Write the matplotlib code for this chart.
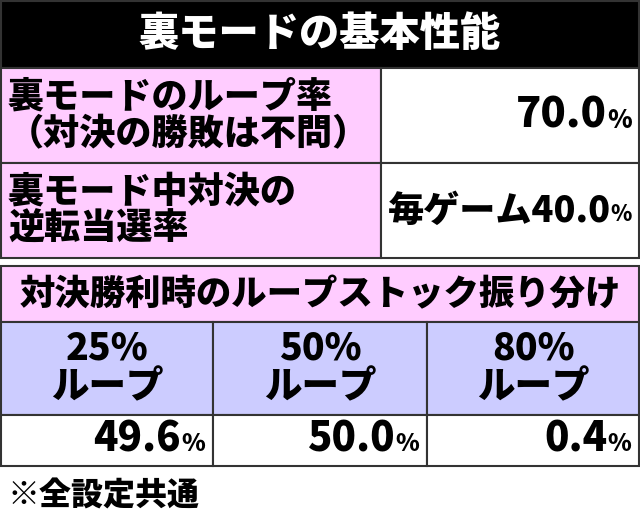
import matplotlib.pyplot as plt
from matplotlib.patches import Rectangle

plt.rcParams['font.family'] = ['Noto Sans CJK JP', 'DejaVu Sans']

title = "裏モードの基本性能"
row_labels = ["裏モードのループ率\n（対決の勝敗は不問）", "裏モード中対決の\n逆転当選率"]
row_prefix = ["", "毎ゲーム"]
row_values = ["70.0", "40.0"]
stock_title = "対決勝利時のループストック振り分け"
stock_labels = ["25%\nループ", "50%\nループ", "80%\nループ"]
stock_values = ["49.6", "50.0", "0.4"]
footnote = "※全設定共通"

PINK = "#ffccff"
BLUE = "#ccccff"
W, H = 640, 521

fig = plt.figure(figsize=(6.4, 5.21), dpi=100)
ax = fig.add_axes([0, 0, 1, 1])
ax.set_xlim(0, W)
ax.set_ylim(H, 0)
ax.axis("off")
fig.canvas.draw()
renderer = fig.canvas.get_renderer()


def cell(x0, y0, x1, y1, color, lw=1.5):
    ax.add_patch(Rectangle((x0, y0), x1 - x0, y1 - y0, facecolor=color,
                           edgecolor="#333333", linewidth=lw))


def pct(xr, yc, prefix, num, size=30):
    p = ax.text(xr, yc + 4, "%", fontsize=size * 0.6, fontweight="heavy",
                ha="right", va="center")
    bb = p.get_window_extent(renderer)
    ax.text(xr - bb.width, yc, prefix + num, fontsize=size, fontweight="heavy",
            ha="right", va="center")


# table 1
cell(1, 1, 639, 68, "black")
ax.text(320, 34, title, color="white", fontsize=29, fontweight="heavy",
        ha="center", va="center")
rows = [(68, 163), (163, 258)]
for (y0, y1), lab, pre, val in zip(rows, row_labels, row_prefix, row_values):
    cell(1, y0, 381, y1, PINK)
    cell(381, y0, 639, y1, "white")
    ax.text(8, (y0 + y1) / 2, lab, fontsize=26, fontweight="heavy",
            ha="left", va="center", linespacing=1.05)
    pct(632, (y0 + y1) / 2, pre, val, size=30 if not pre else 26)

# table 2
cell(1, 266, 639, 322, PINK)
ax.text(320, 294, stock_title, fontsize=25.5, fontweight="heavy",
        ha="center", va="center")
cols = [(1, 213), (213, 427), (427, 639)]
for (x0, x1), lab, val in zip(cols, stock_labels, stock_values):
    cell(x0, 322, x1, 415, BLUE)
    cell(x0, 415, x1, 466, "white")
    ax.text((x0 + x1) / 2, 368, lab, fontsize=27, fontweight="heavy",
            ha="center", va="center", linespacing=1.0)
    pct(x1 - 8, 440, "", val, size=29)

ax.text(8, 496, footnote, fontsize=23, fontweight="heavy", ha="left", va="center")

fig.savefig("out.png", dpi=100)
